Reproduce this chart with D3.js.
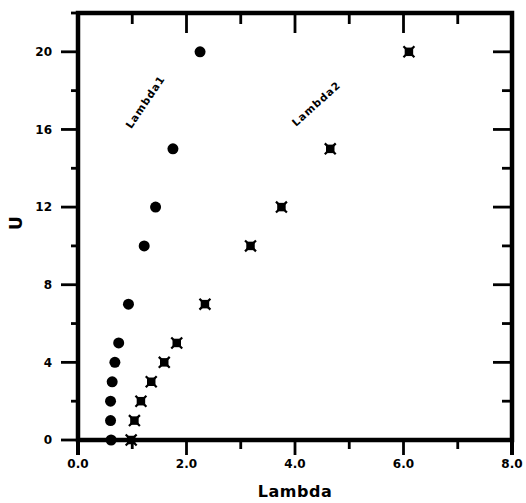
<!DOCTYPE html>
<html>
<head>
<meta charset="utf-8">
<script src="https://cdn.jsdelivr.net/npm/d3@7/dist/d3.min.js"></script>
<style>
  html, body { margin: 0; padding: 0; background: #fff; }
  svg { display: block; }
</style>
</head>
<body>
<svg id="chart" width="526" height="503"></svg>
<script>
// U levels and the two Lambda series measured at each
const uValues = [0, 1, 2, 3, 4, 5, 7, 10, 12, 15, 20];
const lambda1 = [0.61, 0.60, 0.60, 0.63, 0.68, 0.75, 0.93, 1.22, 1.43, 1.75, 2.25];
const lambda2 = [0.98, 1.04, 1.16, 1.35, 1.59, 1.82, 2.34, 3.18, 3.75, 4.65, 6.10];

// Axis ticks
const xMajor = [0, 2, 4, 6, 8];
const xMinor = [1, 3, 5, 7];
const xLabels = ["0.0", "2.0", "4.0", "6.0", "8.0"];
const yMajor = [0, 4, 8, 12, 16, 20];
const yMinor = [2, 6, 10, 14, 18, 22];
const yLabels = ["0", "4", "8", "12", "16", "20"];

// Curve labels, placed at a point along each series
const curveLabels = [
  { text: "Lambda1", lambda: 1.25, u: 17.4, angle: -56 },
  { text: "Lambda2", lambda: 4.4, u: 17.3, angle: -42 }
];

const svg = d3.select("#chart");
const plotLeft = 78, plotRight = 512, plotTop = 13, plotBottom = 440;

const x = d3.scaleLinear().domain([0, 8]).range([plotLeft, plotRight]);
const y = d3.scaleLinear().domain([0, 22]).range([plotBottom, plotTop]);

const tickFont = sel => sel
  .style("font-family", "'DejaVu Sans', sans-serif")
  .style("font-weight", "bold")
  .style("font-size", "12px")
  .style("fill", "#000");

// Tick marks along one edge: `from` is the edge position, `to` the far end
function ticks(values, scale, horizontal, from, to) {
  svg.append("g").selectAll("line")
    .data(values)
    .join("line")
    .attr(horizontal ? "x1" : "y1", d => scale(d))
    .attr(horizontal ? "x2" : "y2", d => scale(d))
    .attr(horizontal ? "y1" : "x1", from)
    .attr(horizontal ? "y2" : "x2", to)
    .style("stroke", "#000")
    .style("stroke-width", "2.8px");
}

// Bottom edge: outward ticks
ticks(xMajor, x, true, plotBottom, plotBottom + 15);
ticks(xMinor, x, true, plotBottom, plotBottom + 9);
// Top edge: inward ticks
ticks(xMajor, x, true, plotTop, plotTop + 20);
ticks(xMinor, x, true, plotTop, plotTop + 11);
// Left edge: outward ticks
ticks(yMajor, y, false, plotLeft, plotLeft - 17);
ticks(yMinor, y, false, plotLeft, plotLeft - 7);
// Right edge: inward ticks
ticks(yMajor, y, false, plotRight, plotRight - 19);
ticks(yMinor, y, false, plotRight, plotRight - 10);

// Tick labels
svg.append("g").selectAll("text")
  .data(xMajor)
  .join("text")
  .attr("x", d => x(d)).attr("y", plotBottom + 28)
  .attr("text-anchor", "middle")
  .call(tickFont)
  .text((d, i) => xLabels[i]);

svg.append("g").selectAll("text")
  .data(yMajor)
  .join("text")
  .attr("x", plotLeft - 26).attr("y", d => y(d))
  .attr("dy", "0.36em")
  .attr("text-anchor", "end")
  .call(tickFont)
  .text((d, i) => yLabels[i]);

// Heavy frame around the plot
svg.append("rect")
  .attr("x", plotLeft).attr("y", plotTop)
  .attr("width", plotRight - plotLeft).attr("height", plotBottom - plotTop)
  .style("fill", "none").style("stroke", "#000").style("stroke-width", "4.5px");

// Spine stubs past the lower corners
[plotLeft, plotRight].forEach(px => {
  svg.append("line").attr("x1", px).attr("x2", px).attr("y1", plotBottom).attr("y2", plotBottom + 15)
    .style("stroke", "#000").style("stroke-width", "4px");
});

// Lambda1: filled circles
svg.append("g").selectAll("circle")
  .data(uValues.map((u, i) => ({ u, l: lambda1[i] })))
  .join("circle")
  .attr("cx", d => x(d.l)).attr("cy", d => y(d.u))
  .attr("r", 5.5).style("fill", "#000");

// Lambda2: filled squares with a short cross
const sq = d3.symbol().type(d3.symbolSquare).size(72);
const cross = d3.symbol().type(d3.symbolX).size(80);
const m2 = svg.append("g").selectAll("g")
  .data(uValues.map((u, i) => ({ u, l: lambda2[i] })))
  .join("g")
  .attr("transform", d => `translate(${x(d.l)},${y(d.u)})`);
m2.append("path").attr("d", sq).style("fill", "#000");
m2.append("path").attr("d", cross).style("fill", "none").style("stroke", "#000").style("stroke-width", "2.2px");

// Curve labels
svg.append("g").selectAll("text")
  .data(curveLabels)
  .join("text")
  .attr("transform", d => `translate(${x(d.lambda)},${y(d.u)}) rotate(${d.angle})`)
  .attr("text-anchor", "middle")
  .attr("dominant-baseline", "middle")
  .style("font-family", "'DejaVu Sans', sans-serif")
  .style("font-weight", "bold")
  .style("font-size", "10.5px")
  .style("letter-spacing", "1px")
  .style("fill", "#000")
  .text(d => d.text);

// Axis titles
svg.append("text")
  .attr("x", (plotLeft + plotRight) / 2).attr("y", 497)
  .attr("text-anchor", "middle")
  .style("font-family", "'DejaVu Sans', sans-serif")
  .style("font-weight", "bold")
  .style("font-size", "16px")
  .style("letter-spacing", "0.5px")
  .style("fill", "#000")
  .text("Lambda");

svg.append("text")
  .attr("transform", `translate(22,223) rotate(-90)`)
  .attr("text-anchor", "middle")
  .style("font-family", "'DejaVu Sans', sans-serif")
  .style("font-weight", "bold")
  .style("font-size", "17px")
  .style("fill", "#000")
  .text("U");
</script>
</body>
</html>
